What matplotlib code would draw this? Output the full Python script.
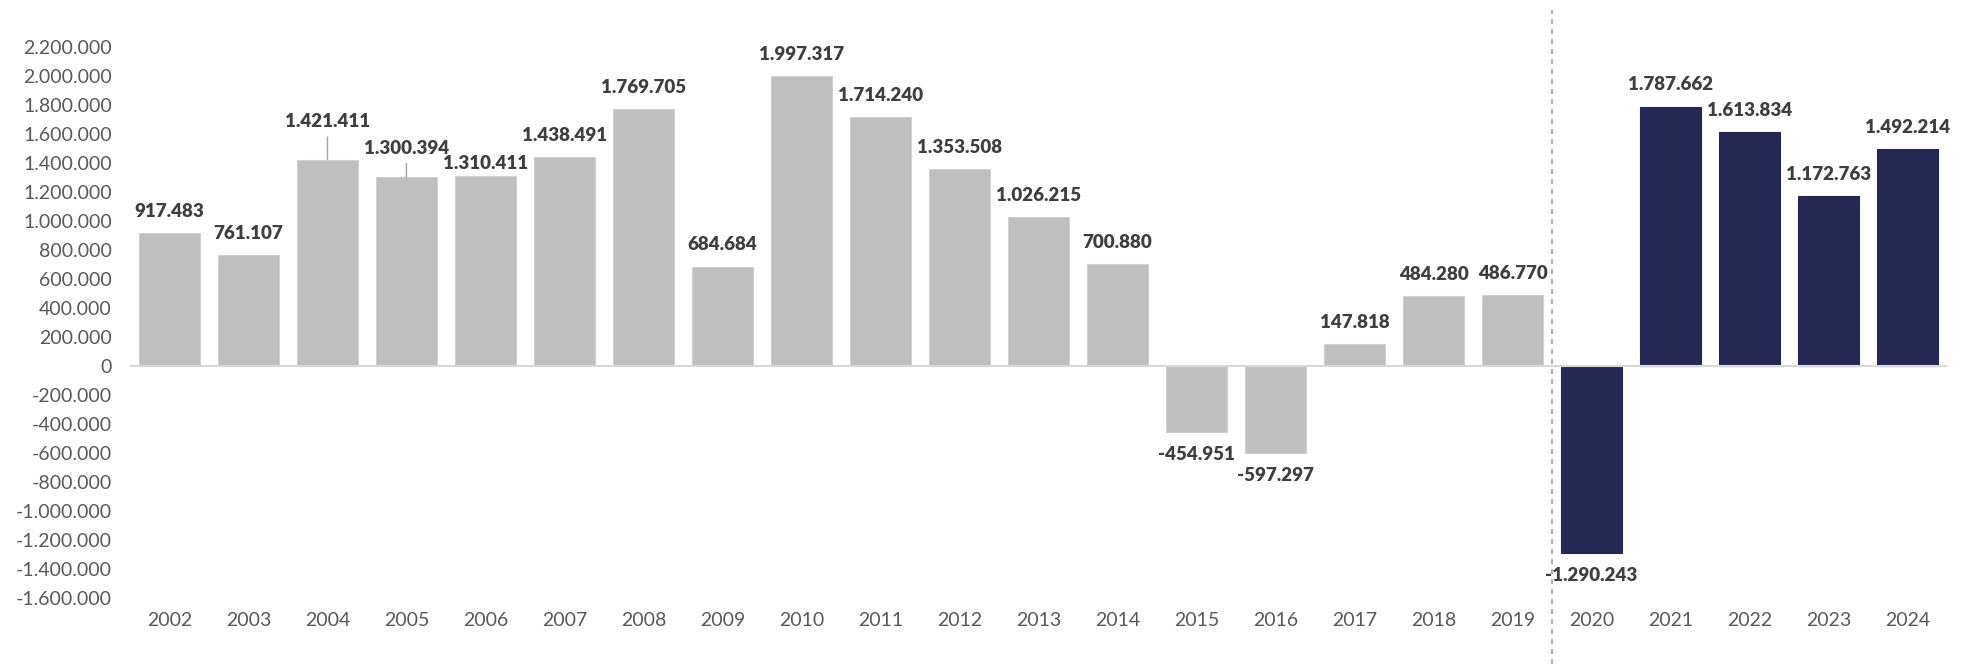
import matplotlib.pyplot as plt
import numpy as np
from matplotlib.ticker import FuncFormatter

plt.rcParams['font.family'] = ['Lato', 'DejaVu Sans']

# Datos
years = ['2002', '2003', '2004', '2005', '2006', '2007', '2008', '2009', '2010', '2011', '2012', '2013',
         '2014', '2015', '2016', '2017', '2018', '2019', '2020', '2021', '2022', '2023', '2024']
values = [917483, 761107, 1421411, 1300394, 1310411, 1438491, 1769705, 684684, 1997317, 1714240,
          1353508, 1026215, 700880, -454951, -597297, 147818, 484280, 486770, -1290243, 1787662,
          1613834, 1172763, 1492214]
first_new_year = '2020'

grey = '#bfbfbf'
navy = '#252852'
label_color = '#3f3f3f'
tick_color = '#595959'

def fmt(v, pos=None):
    return f"{v:,.0f}".replace(",", ".")

fig = plt.figure(figsize=(19.75, 6.64), dpi=100)
ax = fig.add_axes([0.0658, 0.0994, 0.92, 0.8303])

x = np.arange(len(years))
split = years.index(first_new_year)
colors = [grey if i < split else navy for i in range(len(years))]
edges = ['#d0d0d0' if i < split else navy for i in range(len(years))]

ax.bar(x, values, width=0.77, color=colors, edgecolor=edges, linewidth=0.8, zorder=2)
ax.axhline(0, color='#d9d9d9', linewidth=1.5, zorder=3)

# etiquetas de valor (algunas desplazadas como en el original)
extra_up = {'2004': 12, '2005': 5.5, '2006': -7}
for i, v in enumerate(values):
    if v >= 0:
        dy = 15.5 + extra_up.get(years[i], 0)
    else:
        dy = -16.5
    arrow = None
    if years[i] in ('2004', '2005'):
        arrow = dict(arrowstyle='-', color='#a6a6a6', lw=1, shrinkA=3, shrinkB=0)
    ax.annotate(fmt(v), xy=(x[i], v), xytext=(0, dy), textcoords='offset points',
                ha='center', va='center', fontsize=13.5, fontweight='heavy', color=label_color,
                arrowprops=arrow, zorder=5)

# linea vertical discontinua
ax.axvline(split - 0.5, ymin=-0.12, ymax=1.067, color='#a59ba5', linestyle=(0, (3, 3)),
           linewidth=1.2, clip_on=False, zorder=4)

ax.set_xlim(-0.5, len(years) - 0.5)
ax.set_ylim(-1600000, 2200000)
ax.set_yticks(np.arange(-1600000, 2200001, 200000))
ax.yaxis.set_major_formatter(FuncFormatter(fmt))
ax.set_xticks(x)
ax.set_xticklabels(years)
ax.tick_params(axis='y', length=0, pad=13, labelsize=14, labelcolor=tick_color)
ax.tick_params(axis='x', length=0, pad=10, labelsize=14, labelcolor=tick_color)
for s in ax.spines.values():
    s.set_visible(False)

fig.savefig('out.png', dpi=100)
